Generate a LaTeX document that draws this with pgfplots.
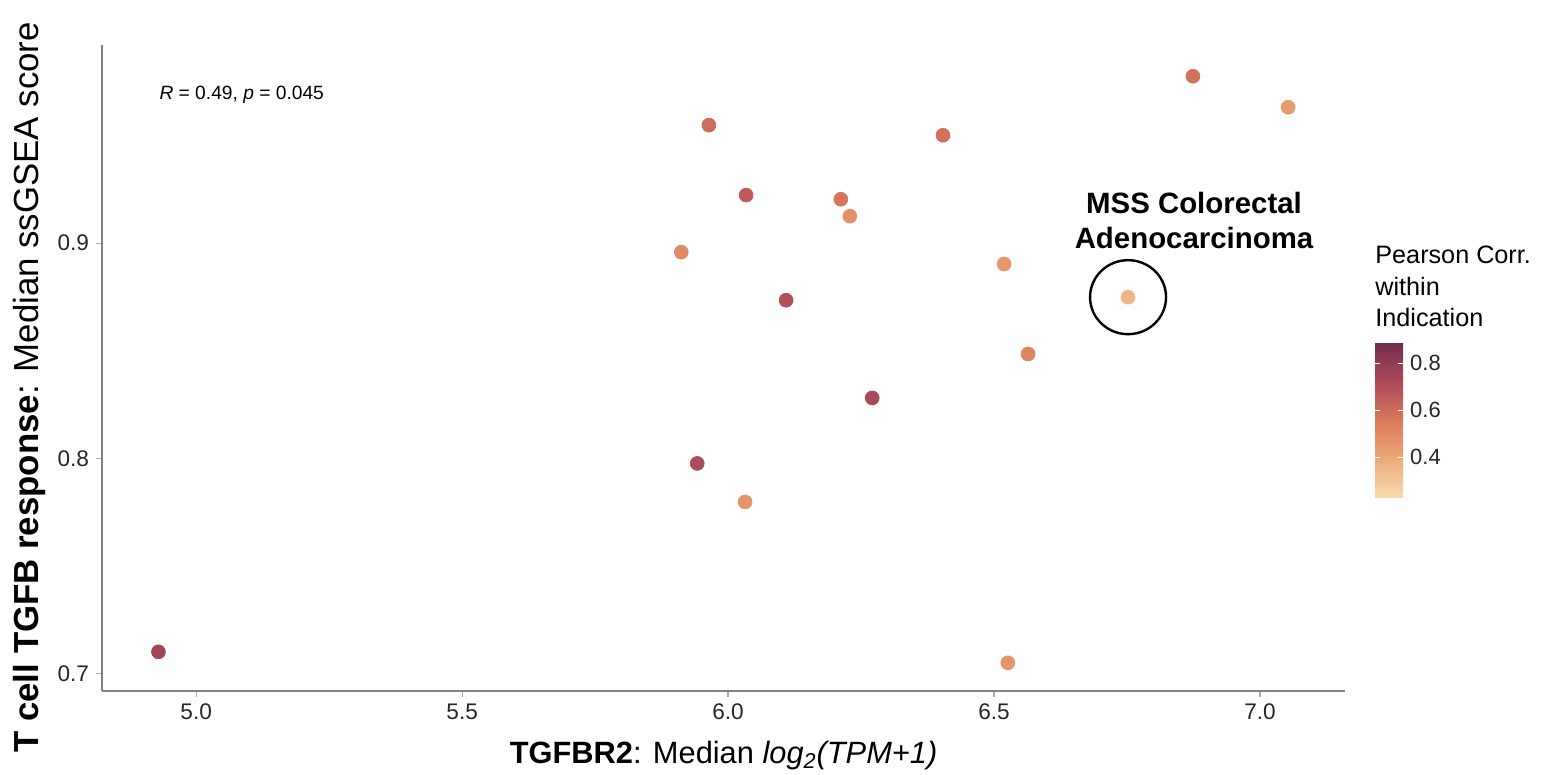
\documentclass[border=0pt]{standalone}
\usepackage{fontspec}
\setmainfont{Liberation Sans}
\usepackage{pgfplots}
\pgfplotsset{compat=1.18}

\definecolor{axisgray}{RGB}{130,130,130}
\definecolor{tickgray}{RGB}{170,170,170}

% median TGFBR2 expression, median ssGSEA score, within-indication Pearson r
\pgfplotstableread{
x      y       c
4.929  0.7102  0.75
5.912  0.8958  0.50
5.964  0.9548  0.60
6.034  0.9223  0.66
6.109  0.8735  0.70
5.942  0.7977  0.72
6.032  0.7798  0.47
6.212  0.9204  0.57
6.229  0.9125  0.48
6.404  0.9501  0.58
6.271  0.8281  0.73
6.519  0.8903  0.46
6.564  0.8485  0.52
6.526  0.7051  0.47
6.752  0.8749  0.35
6.874  0.9775  0.58
7.053  0.9631  0.44
}\indications

\begin{document}
\begin{tikzpicture}
\begin{axis}[
  scale only axis,
  width=621.5pt, height=323pt,
  xmin=4.823, xmax=7.16,
  ymin=0.692, ymax=0.992,
  axis lines=left,
  axis line style={draw=axisgray, line width=1pt, -},
  xtick={5,5.5,6,6.5,7},
  ytick={0.7,0.8,0.9},
  tick align=outside,
  major tick length=3pt,
  tick style={draw=tickgray, line width=0.6pt},
  ticklabel style={font=\fontsize{11.3}{13}\selectfont, text=black!85},
  /pgf/number format/assume math mode=true,
  xticklabel style={/pgf/number format/.cd, fixed, fixed zerofill, precision=1},
  yticklabel style={/pgf/number format/.cd, fixed, fixed zerofill, precision=1},
  xlabel={\textbf{TGFBR2}: Median \textit{log\textsubscript{2}(TPM+1)}},
  xlabel style={at={(rel axis cs:0.5,-0.1115)}, anchor=base,
                font=\fontsize{15.4}{18}\selectfont},
  ylabel={\textbf{T cell TGFB response}: Median ssGSEA score},
  ylabel style={at={(rel axis cs:-0.058,0.47)}, anchor=center,
                font=\fontsize{17.4}{20}\selectfont},
  colormap={burgyl}{rgb255(0cm)=(246,220,176); rgb255(17cm)=(236,168,119);
                    rgb255(32cm)=(219,123,92); rgb255(47cm)=(178,80,90);
                    rgb255(66cm)=(114,43,77)},
  point meta min=0.23, point meta max=0.89,
  colorbar,
  colorbar style={
    at={(parent axis.south east)}, anchor=south west,
    xshift=6.5pt, yshift=97pt,
    width=14pt, height=77.5pt,
    axis line style={draw=none},
    ytick={0.4,0.6,0.8},
    tick align=inside,
    major tick length=2.5pt,
    tick style={draw=white, line width=0.6pt},
    yticklabel style={font=\fontsize{11}{13}\selectfont, text=black!85,
      /pgf/number format/.cd, fixed, fixed zerofill, precision=1,
      assume math mode=true},
  },
  clip=false,
]
\addplot[scatter, only marks, mark=*, mark size=3.45pt,
  scatter src=explicit,
  scatter/use mapped color={draw=mapped color, fill=mapped color}]
  table[x=x, y=y, meta=c] {\indications};

% highlighted indication
\draw[line width=1.2pt] (axis cs:6.752,0.8749) ellipse [x radius=19pt, y radius=18.5pt];
\node[anchor=base, inner sep=0pt, font=\bfseries\fontsize{14.7}{17}\selectfont]
  at (axis cs:6.876,0.9139) {MSS Colorectal};
\node[anchor=base, inner sep=0pt, font=\bfseries\fontsize{14.7}{17}\selectfont]
  at (axis cs:6.876,0.8977) {Adenocarcinoma};

% correlation statistic
\node[anchor=base west, inner sep=0pt, font=\fontsize{9.6}{11}\selectfont]
  at (rel axis cs:0.0459,0.915) {\textit{R} = 0.49, \textit{p} = 0.045};

% colour bar title
\node[anchor=base west, inner sep=0pt, font=\fontsize{12.6}{15}\selectfont]
  at (rel axis cs:1.0241,0.6625) {Pearson Corr.};
\node[anchor=base west, inner sep=0pt, font=\fontsize{12.6}{15}\selectfont]
  at (rel axis cs:1.0241,0.6130) {within};
\node[anchor=base west, inner sep=0pt, font=\fontsize{12.6}{15}\selectfont]
  at (rel axis cs:1.0241,0.5635) {Indication};

\coordinate (bbSW) at (rel axis cs:-0.0821,-0.1285);
\coordinate (bbNE) at (rel axis cs:1.1705,1.0697);
\end{axis}
\pgfresetboundingbox
\useasboundingbox (bbSW) rectangle (bbNE);
\end{tikzpicture}
\end{document}
